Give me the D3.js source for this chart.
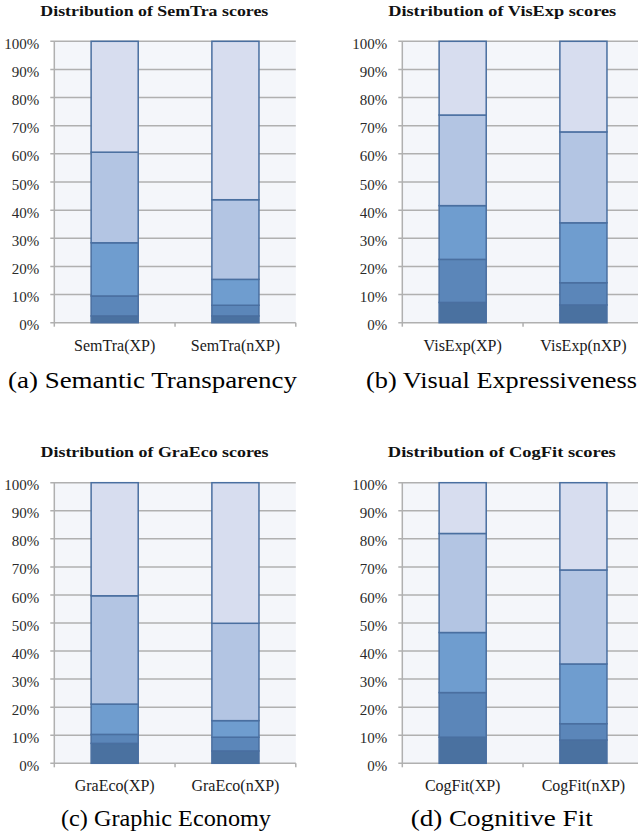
<!DOCTYPE html>
<html>
<head>
<meta charset="utf-8">
<script src="https://cdn.jsdelivr.net/npm/d3@7"></script>
<style>
  body { margin: 0; background: #fff; }
  svg { display: block; }
</style>
</head>
<body>
<div id="chart"></div>
<script>
// share of each score (1..5) in percent, bottom to top
var semTraCats = ["SemTra(XP)", "SemTra(nXP)"];
var semTraXP  = [2.4, 7.1, 18.9, 32.2, 39.4];
var semTraNXP = [2.4, 3.8, 9.2, 28.3, 56.3];

var visExpCats = ["VisExp(XP)", "VisExp(nXP)"];
var visExpXP  = [7.2, 15.3, 19.1, 32.2, 26.2];
var visExpNXP = [6.3, 7.9, 21.3, 32.3, 32.2];

var graEcoCats = ["GraEco(XP)", "GraEco(nXP)"];
var graEcoXP  = [7.1, 3.2, 10.8, 38.6, 40.3];
var graEcoNXP = [4.4, 4.9, 5.9, 34.7, 50.1];

var cogFitCats = ["CogFit(XP)", "CogFit(nXP)"];
var cogFitXP  = [9.3, 15.9, 21.4, 35.3, 18.1];
var cogFitNXP = [8.3, 5.8, 21.3, 33.5, 31.1];

var yTicks = [0, 10, 20, 30, 40, 50, 60, 70, 80, 90, 100];
var scoreKeys = [0, 1, 2, 3, 4];

var titles = ["Distribution of SemTra scores", "Distribution of VisExp scores",
              "Distribution of GraEco scores", "Distribution of CogFit scores"];
var captions = ["(a) Semantic Transparency", "(b) Visual Expressiveness",
                "(c) Graphic Economy", "(d) Cognitive Fit"];

var segColors = ["#4a71a0", "#5b86b9", "#6f9dcf", "#b3c5e3", "#d7ddef"];

var W = 638, H = 840;
var plotW = 241.5;

// layout of the four panels
var panels = [
  {cats: semTraCats, rows: [semTraXP, semTraNXP], left: 54.3, top: 41.3, bottom: 322.7,
   titleX: 154.3, titleY: 15.5, capX: 152.5, capY: 387.5, capLen: 289},
  {cats: visExpCats, rows: [visExpXP, visExpNXP], left: 402.3, top: 41.3, bottom: 322.7,
   titleX: 502.2, titleY: 15.5, capX: 501.5, capY: 387.5, capLen: 271},
  {cats: graEcoCats, rows: [graEcoXP, graEcoNXP], left: 54.3, top: 482.7, bottom: 763.3,
   titleX: 154.5, titleY: 456.5, capX: 166, capY: 826, capLen: 210},
  {cats: cogFitCats, rows: [cogFitXP, cogFitNXP], left: 402.3, top: 482.7, bottom: 763.3,
   titleX: 501.8, titleY: 456.5, capX: 501.7, capY: 826, capLen: 182}
];

var svg = d3.select("#chart").append("svg")
  .attr("width", W)
  .attr("height", H);

var serif = "'Liberation Serif', 'Times New Roman', serif";

panels.forEach(function(p, pi) {
  var h = p.bottom - p.top;
  var g = svg.append("g").attr("transform", "translate(" + p.left + "," + p.top + ")");

  var x = d3.scaleBand().domain(p.cats).range([0, plotW])
    .paddingInner(0.61).paddingOuter(0.305);
  var y = d3.scaleLinear().domain([0, 100]).range([h, 0]);

  // plot background
  g.append("rect")
    .attr("x", 0).attr("y", 0)
    .attr("width", plotW).attr("height", h)
    .attr("fill", "#f4f6fa");

  // grid lines (with small ticks on the left)
  g.selectAll(".grid")
    .data(yTicks)
    .enter().append("line")
    .attr("x1", -4).attr("x2", plotW)
    .attr("y1", function(d) { return y(d); })
    .attr("y2", function(d) { return y(d); })
    .attr("stroke", "#b0b0b0")
    .attr("stroke-width", 1.5);

  // left axis line
  g.append("line")
    .attr("x1", 0).attr("x2", 0)
    .attr("y1", 0).attr("y2", h)
    .attr("stroke", "#b0b0b0")
    .attr("stroke-width", 1.5);

  // y tick labels
  var yAxis = d3.axisLeft(y).tickValues(yTicks)
    .tickFormat(function(d) { return d + "%"; })
    .tickSize(0).tickPadding(15);
  var ya = g.append("g").call(yAxis);
  ya.select(".domain").remove();
  ya.selectAll("text")
    .attr("dy", "0.47em")
    .style("font-family", serif)
    .style("font-size", "15px")
    .attr("fill", "#2a2a2a");

  // bottom axis ticks at band boundaries
  var bounds = d3.range(p.cats.length + 1).map(function(i) { return i * x.step(); });
  g.selectAll(".xtick")
    .data(bounds)
    .enter().append("line")
    .attr("x1", function(d) { return d; })
    .attr("x2", function(d) { return d; })
    .attr("y1", h).attr("y2", h + 4)
    .attr("stroke", "#b0b0b0")
    .attr("stroke-width", 1.5);

  // stacked bars
  var stack = d3.stack().keys(scoreKeys).value(function(d, k) { return d[k]; });
  var series = stack(p.rows);

  g.selectAll(".layer")
    .data(series)
    .enter().append("g")
    .attr("fill", function(d, i) { return segColors[i]; })
    .selectAll("rect")
    .data(function(d) { return d; })
    .enter().append("rect")
    .attr("x", function(d, i) { return x(p.cats[i]); })
    .attr("width", x.bandwidth())
    .attr("y", function(d) { return y(d[1]); })
    .attr("height", function(d) { return y(d[0]) - y(d[1]); })
    .attr("stroke", "#4a6fa0")
    .attr("stroke-width", 1.5);

  // category labels
  g.selectAll(".xlab")
    .data(p.cats)
    .enter().append("text")
    .attr("x", function(d) { return x(d) + x.bandwidth() / 2; })
    .attr("y", h + 28)
    .attr("text-anchor", "middle")
    .style("font-family", serif)
    .style("font-size", "16px")
    .attr("fill", "#1a1a1a")
    .text(function(d) { return d; });

  // chart title
  svg.append("text")
    .attr("x", p.titleX)
    .attr("y", p.titleY)
    .attr("text-anchor", "middle")
    .style("font-family", serif)
    .style("font-weight", "bold")
    .style("font-size", "15px")
    .attr("textLength", 228)
    .attr("lengthAdjust", "spacingAndGlyphs")
    .attr("fill", "#111")
    .text(titles[pi]);

  // sub-figure caption
  svg.append("text")
    .attr("x", p.capX)
    .attr("y", p.capY)
    .attr("text-anchor", "middle")
    .style("font-family", serif)
    .style("font-size", "24px")
    .attr("textLength", p.capLen)
    .attr("lengthAdjust", "spacingAndGlyphs")
    .attr("fill", "#000")
    .text(captions[pi]);
});
</script>
</body>
</html>
